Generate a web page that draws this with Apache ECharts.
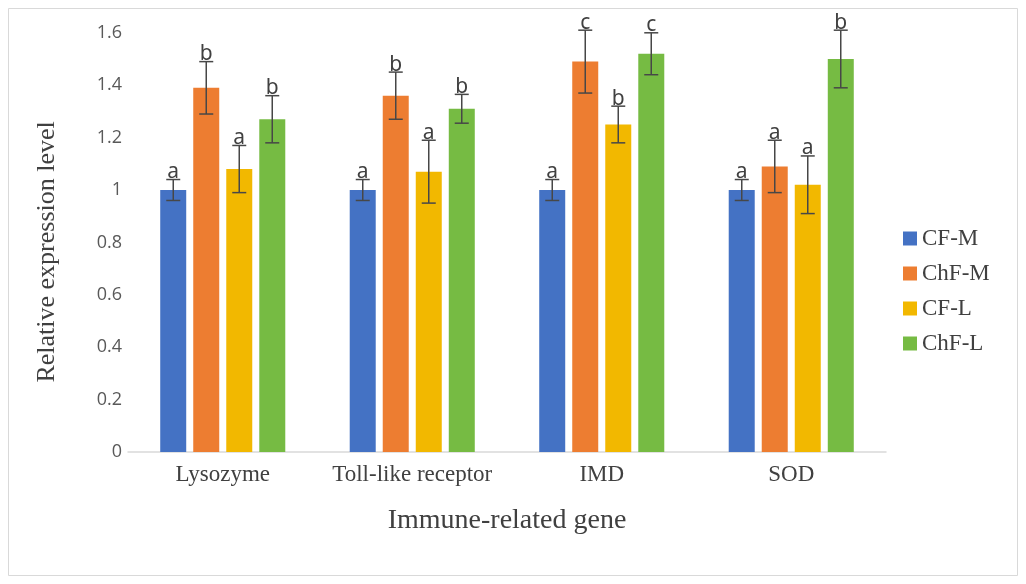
<!DOCTYPE html>
<html><head><meta charset="utf-8">
<script src="https://cdn.jsdelivr.net/npm/echarts@6/dist/echarts.min.js"></script>
<style>html,body{margin:0;padding:0;background:#fff}#c{width:1026px;height:584px}</style>
</head><body><div id="c"></div>
<script>
const categories = ['Lysozyme', 'Toll-like receptor', 'IMD', 'SOD'];
const seriesNames = ['CF-M', 'ChF-M', 'CF-L', 'ChF-L'];
const cfM = [1.00, 1.00, 1.00, 1.00];
const chfM = [1.39, 1.36, 1.49, 1.09];
const cfL = [1.08, 1.07, 1.25, 1.02];
const chfL = [1.27, 1.31, 1.52, 1.50];
const cfMErr = [0.04, 0.04, 0.04, 0.04];
const chfMErr = [0.10, 0.09, 0.12, 0.10];
const cfLErr = [0.09, 0.12, 0.07, 0.11];
const chfLErr = [0.09, 0.055, 0.08, 0.11];
const cfMLetters = ['a', 'a', 'a', 'a'];
const chfMLetters = ['b', 'b', 'c', 'a'];
const cfLLetters = ['a', 'a', 'b', 'a'];
const chfLLetters = ['b', 'b', 'c', 'b'];
const yTicks = [0, 0.2, 0.4, 0.6, 0.8, 1, 1.2, 1.4, 1.6];

const values = [cfM, chfM, cfL, chfL];
const errs = [cfMErr, chfMErr, cfLErr, chfLErr];
const letters = [cfMLetters, chfMLetters, cfLLetters, chfLLetters];
const colors = ['#4472C4', '#ED7D31', '#F2B800', '#76BB43'];
const BAR_W = 26, STEP = 33;
const SERIF = '"Liberation Serif", "Times New Roman", serif';

const chart = echarts.init(document.getElementById('c'));
const series = [];
values.forEach((vals, i) => {
  series.push({
    name: seriesNames[i], type: 'bar', data: vals,
    barWidth: BAR_W, barGap: '27%',
    itemStyle: { color: colors[i] }
  });
});
values.forEach((vals, i) => {
  series.push({
    type: 'custom', silent: true, z: 5,
    data: vals.map((v, k) => [k, v, errs[i][k]]),
    renderItem: function (params, api) {
      const k = api.value(0), v = api.value(1), e = api.value(2);
      const top = api.coord([k, v + e]);
      const bot = api.coord([k, v - e]);
      const x = top[0] + (i - 1.5) * STEP;
      const hw = 7;
      const st = { stroke: '#474747', lineWidth: 1.5 };
      return {
        type: 'group', children: [
          { type: 'line', shape: { x1: x, y1: top[1], x2: x, y2: bot[1] }, style: st },
          { type: 'line', shape: { x1: x - hw, y1: top[1], x2: x + hw, y2: top[1] }, style: st },
          { type: 'line', shape: { x1: x - hw, y1: bot[1], x2: x + hw, y2: bot[1] }, style: st },
          { type: 'text', x: x, y: top[1] + 3, style: {
            text: letters[i][k], fill: '#404040', font: '21px "Noto Sans", sans-serif',
            align: 'center', verticalAlign: 'bottom' } }
        ]
      };
    }
  });
});

chart.setOption({
  animation: false,
  backgroundColor: '#fff',
  graphic: [{ type: 'rect', shape: { x: 8.5, y: 8.5, width: 1009, height: 567 },
    style: { fill: 'none', stroke: '#D9D9D9', lineWidth: 1 } }],
  grid: { left: 128, right: 140, top: 32.8, bottom: 132 },
  legend: {
    orient: 'vertical', left: 898, top: 222, itemWidth: 14, itemHeight: 14, itemGap: 12,
    icon: 'rect', data: seriesNames,
    textStyle: { fontFamily: SERIF, fontSize: 23, color: '#404040' }
  },
  xAxis: {
    type: 'category', data: categories,
    name: 'Immune-related gene', nameLocation: 'middle', nameGap: 55,
    nameTextStyle: { fontFamily: SERIF, fontSize: 28, color: '#404040' },
    axisLine: { lineStyle: { color: '#D9D9D9', width: 1.5 } },
    axisTick: { show: false },
    axisLabel: { fontFamily: SERIF, fontSize: 23, color: '#404040', margin: 11, interval: 0 }
  },
  yAxis: {
    type: 'value', min: 0, max: 1.6, interval: 0.2,
    name: 'Relative expression level', nameLocation: 'middle', nameGap: 68, nameRotate: 90,
    nameTextStyle: { fontFamily: SERIF, fontSize: 26, color: '#404040', padding: [0, 19, 0, 0] },
    splitLine: { show: false }, axisLine: { show: false }, axisTick: { show: false },
    axisLabel: { fontFamily: '"Open Sans", sans-serif', fontSize: 18, color: '#595959', margin: 6,
      formatter: v => { const t = yTicks.find(x => Math.abs(x - v) < 1e-9); return String(t === undefined ? +v.toFixed(1) : t); } }
  },
  series: series
});
</script></body></html>
